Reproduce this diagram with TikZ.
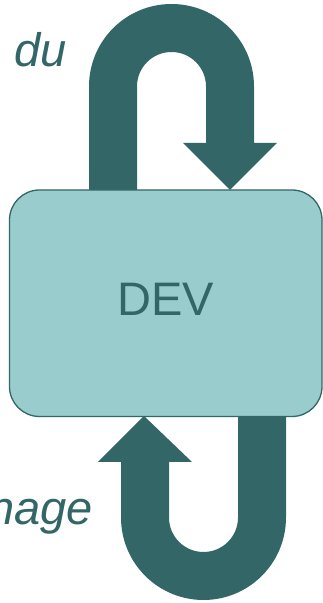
\documentclass[tikz,border=0pt]{standalone}
\usepackage{fontspec}
\setmainfont{Liberation Sans}
\definecolor{darkteal}{HTML}{336666}
\definecolor{lightteal}{HTML}{99CCCC}
\begin{document}
\begin{tikzpicture}[x=1pt,y=1pt,
  uarrow/.style={fill=darkteal,draw=none},
  devbox/.style={draw=darkteal,line width=1.3pt,fill=lightteal,rounded corners=30pt},
  bigtext/.style={text=darkteal,font=\fontsize{47}{50}\selectfont,inner sep=0pt},
  sidetext/.style={text=darkteal,font=\fontsize{47}{50}\selectfont\itshape,inner sep=0pt}]
\useasboundingbox (0,0) rectangle (323,603);
% top U-turn arrow
\fill[uarrow] (89,413) -- (89,516.5) arc[start angle=180,end angle=0,radius=82.5]
  -- (254,460) -- (277,460) -- (230,413) -- (183,460) -- (206,460) -- (206,516.5)
  arc[start angle=0,end angle=180,radius=34.5] -- (137,413) -- cycle;
% bottom U-turn arrow
\fill[uarrow] (286,187) -- (286,85.5) arc[start angle=0,end angle=-180,radius=82.5]
  -- (121,141) -- (98,141) -- (144,187) -- (192,141) -- (169,141) -- (169,85.5)
  arc[start angle=180,end angle=360,radius=34.5] -- (238,187) -- cycle;
% box
\draw[devbox] (9.5,186.5) rectangle (322,413);
\node[bigtext] (dev) at (166,304) {DEV};
\node[sidetext,anchor=base west] (du) at (14,536) {du};
\node[sidetext,anchor=base east] (nage) at (93,78) {nage};
\end{tikzpicture}
\end{document}
